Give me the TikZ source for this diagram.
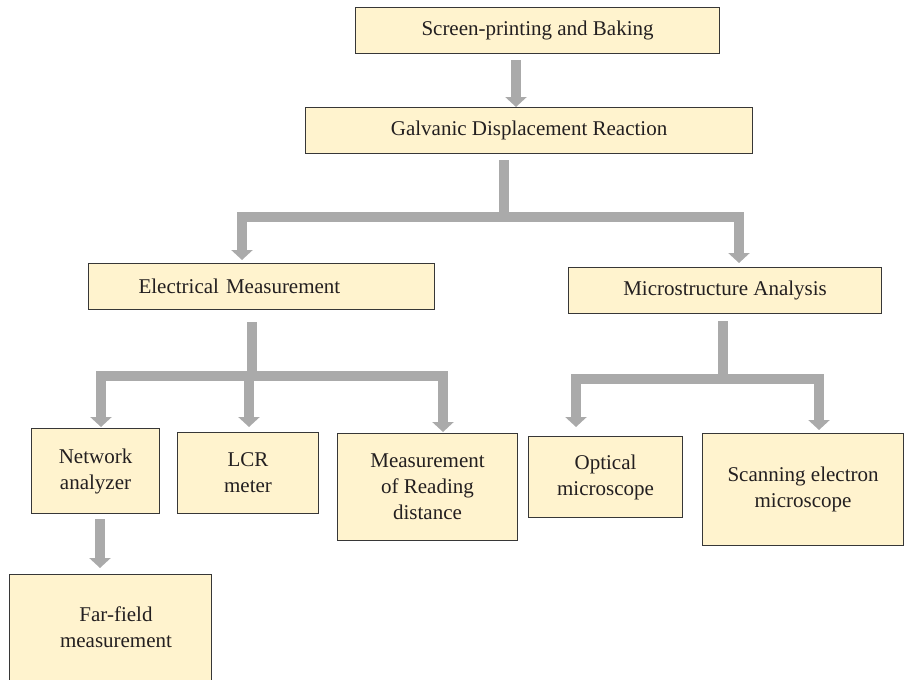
\documentclass[tikz,border=0pt]{standalone}
\usepackage{fontspec}
\setmainfont{Liberation Serif}
\usetikzlibrary{arrows.meta}
\definecolor{boxfill}{RGB}{255,243,206}
\definecolor{boxline}{RGB}{55,55,55}
\definecolor{arrowgray}{RGB}{170,170,170}
\definecolor{textcol}{RGB}{35,31,32}
\begin{document}
\begin{tikzpicture}[x=1pt,y=-1pt,
  box/.style={draw=boxline,fill=boxfill,line width=1.1pt,inner sep=0pt,anchor=north west,align=center,font=\fontsize{21}{26}\selectfont,text=textcol},
  txt/.style={align=center,inner sep=0pt,font=\fontsize{21}{26}\selectfont,text=textcol},
  conn/.style={draw=arrowgray,line width=10.5pt,line join=miter},
  arr/.style={-{Triangle[width=21pt,length=10pt]}}]
\useasboundingbox (0,0) rectangle (905,680);

% boxes
\node[box,minimum width=364pt,minimum height=46pt] (screen) at (355,7) {Screen-printing and Baking};
\node[box,minimum width=447pt,minimum height=46pt] (galv) at (305,107) {Galvanic Displacement Reaction};
\node[box,minimum height=46pt,text width=246pt,align=left,inner xsep=50pt] (elec) at (88,263) {Electrical Measurement};
\node[box,minimum width=313pt,minimum height=46pt] (micro) at (568,267) {Microstructure Analysis};
\node[box,minimum width=128pt,minimum height=85pt] (net) at (31,428) {Network\\analyzer};
\node[box,minimum width=141pt,minimum height=81pt] (lcr) at (177,432) {LCR\\meter};
\node[box,minimum width=180pt,minimum height=107pt] (meas) at (337,433) {Measurement\\of Reading\\distance};
\node[box,minimum width=154pt,minimum height=81pt] (opt) at (528,436) {Optical\\microscope};
\node[box,minimum width=201pt,minimum height=112pt] (sem) at (702,433) {Scanning electron\\microscope};
\node[box,minimum width=202pt,minimum height=130pt] (far) at (9,574) {};
\node[txt] (fartext) at (116,627) {Far-field\\measurement};

% connectors
\coordinate (s1) at (516,60);
\draw[conn,arr] (s1) -- (galv.north -| s1);

\coordinate (g0) at (504,160);
\coordinate (gj) at (504,217);
\coordinate (gl) at (242,217);
\coordinate (gr) at (739,217);
\draw[conn] (g0) -- (gj);
\draw[conn,arr,shorten >=3pt] (gj) -- (gl) -- (elec.north -| gl);
\draw[conn,arr,shorten >=4pt] (gj) -- (gr) -- (micro.north -| gr);

\coordinate (e0) at (252,322);
\coordinate (ej) at (252,376);
\coordinate (el) at (101,376);
\coordinate (em) at (249,376);
\coordinate (er) at (443,376);
\draw[conn] (e0) -- (ej);
\draw[conn,arr,shorten >=1pt] (ej) -- (el) -- (net.north -| el);
\draw[conn,arr,shorten >=5pt] (em) -- (lcr.north -| em);
\draw[conn,arr,shorten >=1pt] (ej) -- (er) -- (meas.north -| er);

\coordinate (m0) at (723,321);
\coordinate (mj) at (723,379);
\coordinate (ml) at (576,379);
\coordinate (mr) at (819,379);
\draw[conn] (m0) -- (mj);
\draw[conn,arr,shorten >=9pt] (mj) -- (ml) -- (opt.north -| ml);
\draw[conn,arr,shorten >=3pt] (mj) -- (mr) -- (sem.north -| mr);

\coordinate (n0) at (100,519);
\draw[conn,arr,shorten >=6pt] (n0) -- (far.north -| n0);
\end{tikzpicture}
\end{document}
